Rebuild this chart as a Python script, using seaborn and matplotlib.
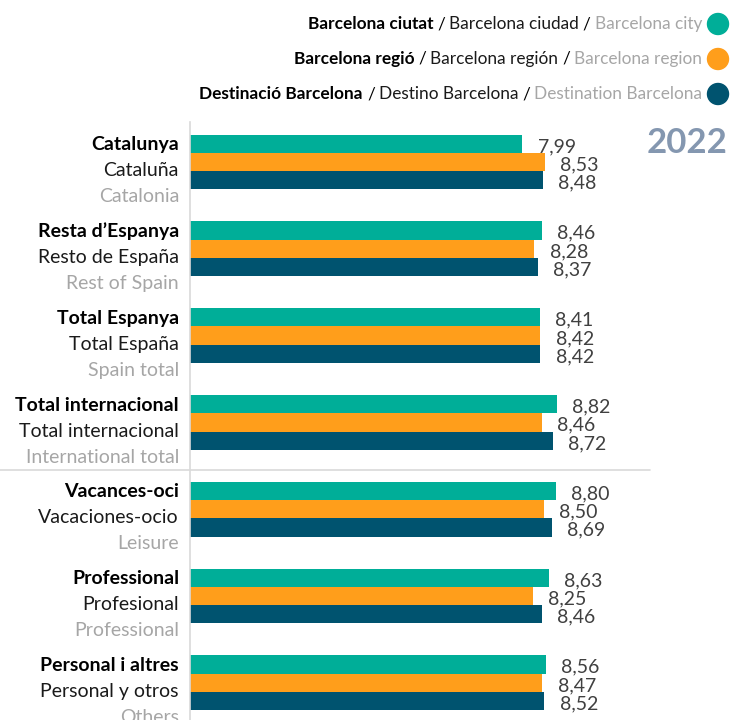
import matplotlib
matplotlib.use("Agg")
import matplotlib.pyplot as plt
import seaborn as sns
import pandas as pd
from matplotlib.transforms import blended_transform_factory
from matplotlib.lines import Line2D
from matplotlib.patches import Ellipse

# ---------------- data ----------------
cat_ca = ["Catalunya", "Resta d\u2019Espanya", "Total Espanya", "Total internacional",
          "Vacances-oci", "Professional", "Personal i altres"]
cat_es = ["Catalu\u00f1a", "Resto de Espa\u00f1a", "Total Espa\u00f1a", "Total internacional",
          "Vacaciones-ocio", "Profesional", "Personal y otros"]
cat_en = ["Catalonia", "Rest of Spain", "Spain total", "International total",
          "Leisure", "Professional", "Others"]

series_ca = ["Barcelona ciutat", "Barcelona regi\u00f3", "Destinaci\u00f3 Barcelona"]
series_es = ["Barcelona ciudad", "Barcelona regi\u00f3n", "Destino Barcelona"]
series_en = ["Barcelona city", "Barcelona region", "Destination Barcelona"]

city = [7.99, 8.46, 8.41, 8.82, 8.80, 8.63, 8.56]
region = [8.53, 8.28, 8.42, 8.46, 8.50, 8.25, 8.47]
destination = [8.48, 8.37, 8.42, 8.72, 8.69, 8.46, 8.52]

year_label = "2022"

colors = ["#00AE98", "#FF9E1B", "#00536F"]

# ---------------- build table ----------------
rows = []
for s, vals in zip(series_ca, [city, region, destination]):
    for c, v in zip(cat_ca, vals):
        rows.append({"cat": c, "series": s, "value": v})
df = pd.DataFrame(rows)

sns.set_theme(style="white")
plt.rcParams["font.family"] = ["Lato", "DejaVu Sans"]

W, H = 738, 720
fig = plt.figure(figsize=(W / 100, H / 100), dpi=100)
ax_top_px = 122
ax = fig.add_axes([190 / W, 0, (W - 190) / W, 1 - ax_top_px / H])

sns.barplot(data=df, y="cat", x="value", hue="series", order=cat_ca,
            hue_order=series_ca, palette=colors, width=0.63, orient="h",
            ax=ax, legend=False, saturation=1, linewidth=0)

px_per_unit = 41.6
grp_px = 86.8
first_center = 162
ax.set_xlim(0, (W - 190) / px_per_unit)
ax.set_ylim((H - first_center) / grp_px, -(first_center - ax_top_px) / grp_px)
ax.set_xticks([])
ax.set_yticks([])
ax.set_xlabel("")
ax.set_ylabel("")
for s in ["top", "right", "bottom"]:
    ax.spines[s].set_visible(False)
ax.spines["left"].set_color("#d9d9d9")
ax.spines["left"].set_linewidth(1.2)

# value labels
for cont, vals in zip(ax.containers, [city, region, destination]):
    for patch, v in zip(cont.patches, vals):
        yc = patch.get_y() + patch.get_height() / 2
        ax.annotate(f"{v:.2f}".replace(".", ","), xy=(patch.get_width(), yc),
                    xytext=(11, -2), textcoords="offset points",
                    ha="left", va="center", color="#404040", fontsize=14)

# category labels
tr = blended_transform_factory(fig.transFigure, ax.transData)
lx = 179 / W
fs_cat = 14
for i in range(len(cat_ca)):
    ax.text(lx, i - 0.2, cat_ca[i], transform=tr, ha="right", va="center",
            fontsize=fs_cat, fontweight="bold", color="black", clip_on=False)
    ax.text(lx, i + 0.1, cat_es[i], transform=tr, ha="right", va="center",
            fontsize=fs_cat, color="#1a1a1a", clip_on=False)
    ax.text(lx, i + 0.4, cat_en[i], transform=tr, ha="right", va="center",
            fontsize=fs_cat, color="#a6a6a6", clip_on=False)

# separator line
fig.add_artist(Line2D([0, 650 / W], [3.55, 3.55], transform=tr,
                      color="#d9d9d9", linewidth=1.2))

# year
fig.text(728 / W, 1 - 143 / H, year_label, ha="right", va="center",
         fontsize=25, fontweight="bold", color="#8497B0")

# legend
renderer = fig.canvas.get_renderer()
leg_y = [24, 59, 94]
for j in range(3):
    y = 1 - leg_y[j] / H
    fig.add_artist(Ellipse((718 / W, y), width=21 / W, height=21 / H,
                           transform=fig.transFigure, color=colors[j]))
    parts = [(series_ca[j], "bold", "black"), ("/", "normal", "black"),
             (series_es[j], "normal", "#1a1a1a"), ("/", "normal", "black"),
             (series_en[j], "normal", "#a6a6a6")]
    x = 702
    for text, weight, col in reversed(parts):
        t = fig.text(x / W, y, text, ha="right", va="center", fontsize=12.4,
                     fontweight=weight, color=col)
        bb = t.get_window_extent(renderer)
        x = bb.x0 - 4

fig.savefig("out.png", dpi=100)
